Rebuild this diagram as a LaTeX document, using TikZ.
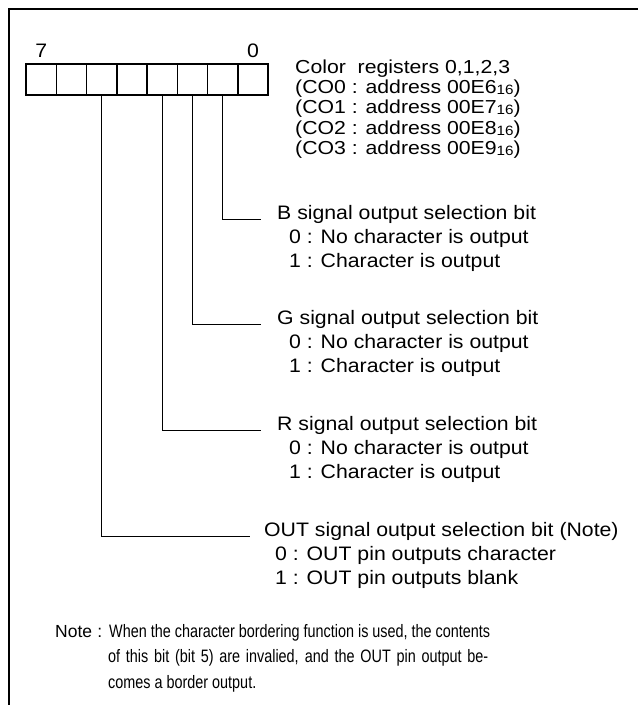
\documentclass[tikz,border=0pt]{standalone}
\usepackage{fontspec}
\setmainfont{Liberation Sans}
\newfontfamily\mainf[FakeStretch=1.09]{Liberation Sans}
\newfontfamily\regf[FakeStretch=1.13]{Liberation Sans}
\newfontfamily\notef[FakeStretch=0.8]{Liberation Sans}
\newcommand{\hexsub}[1]{\raisebox{-0.8pt}{\fontsize{13.5}{13.5}\selectfont #1}}
\begin{document}
\begin{tikzpicture}[x=1pt,y=-1pt,
  frame/.style={line width=2pt},
  cell/.style={draw, line width=1.5pt, minimum width=30.25pt, minimum height=31pt, inner sep=0pt, outer sep=0pt},
  conn/.style={line width=0.9pt},
  txt/.style={inner sep=0pt, anchor=base west, font=\mainf\fontsize{19.5}{19.5}\selectfont},
  regtxt/.style={inner sep=0pt, anchor=base west, font=\regf\fontsize{18.8}{18.8}\selectfont},
  notehead/.style={inner sep=0pt, anchor=base west, font=\fontsize{17.5}{17.5}\selectfont},
  notetxt/.style={inner sep=0pt, anchor=base west, font=\notef\fontsize{18}{18}\selectfont}]
\useasboundingbox (0,0) rectangle (638,705);
\draw[frame] (8.5,705) -- (8.5,8.5) -- (638,8.5);
% register cells, bit 7 at left
\foreach \i in {0,...,7}
  \node[cell] (b\i) at ({26+30.25*(7-\i)+15.125}, 79.5) {};
\node[txt, anchor=base] (l7) at (41.3,57) {7};
\node[txt, anchor=base] (l0) at (253,57) {0};
% register names
\node[regtxt] (r0) at (295,73.3) {Color\ \ registers 0,1,2,3};
\node[regtxt] (r1) at (295,93.6) {(CO0 : address 00E6\hexsub{16})};
\node[regtxt] (r2) at (295,113.9) {(CO1 : address 00E7\hexsub{16})};
\node[regtxt] (r3) at (295,134.2) {(CO2 : address 00E8\hexsub{16})};
\node[regtxt] (r4) at (295,154.5) {(CO3 : address 00E9\hexsub{16})};
% connectors
\coordinate (eB) at (261,219);
\coordinate (eG) at (261,324);
\coordinate (eR) at (261,430);
\coordinate (eO) at (250,536);
\draw[conn] (b1.south) |- (eB);
\draw[conn] (b2.south) |- (eG);
\draw[conn] (b3.south) |- (eR);
\draw[conn] (b5.south) |- (eO);
% B
\node[txt] (bt) at (277,219) {B signal output selection bit};
\node[txt] (b0t) at (289,243) {0 : No character is output};
\node[txt] (b1t) at (289,267) {1 : Character is output};
% G
\node[txt] (gt) at (277,324) {G signal output selection bit};
\node[txt] (g0t) at (289,348) {0 : No character is output};
\node[txt] (g1t) at (289,372) {1 : Character is output};
% R
\node[txt] (rt) at (277,430) {R signal output selection bit};
\node[txt] (r0t) at (289,454) {0 : No character is output};
\node[txt] (r1t) at (289,478) {1 : Character is output};
% OUT
\node[txt] (ot) at (264,536) {OUT signal output selection bit (Note)};
\node[txt] (o0t) at (275,560) {0 : OUT pin outputs character};
\node[txt] (o1t) at (275,584) {1 : OUT pin outputs blank};
% note
\node[notehead] (nh) at (55,637) {\makebox[47pt][s]{Note :}};
\node[notetxt] (n1) at (109,637) {\makebox[381pt][s]{When the character bordering function is used, the contents}};
\node[notetxt] (n2) at (108,662.5) {\makebox[380pt][s]{of this bit (bit 5) are invalied, and the OUT pin output be-}};
\node[notetxt] (n3) at (108,688) {comes a border output.};
\end{tikzpicture}
\end{document}
